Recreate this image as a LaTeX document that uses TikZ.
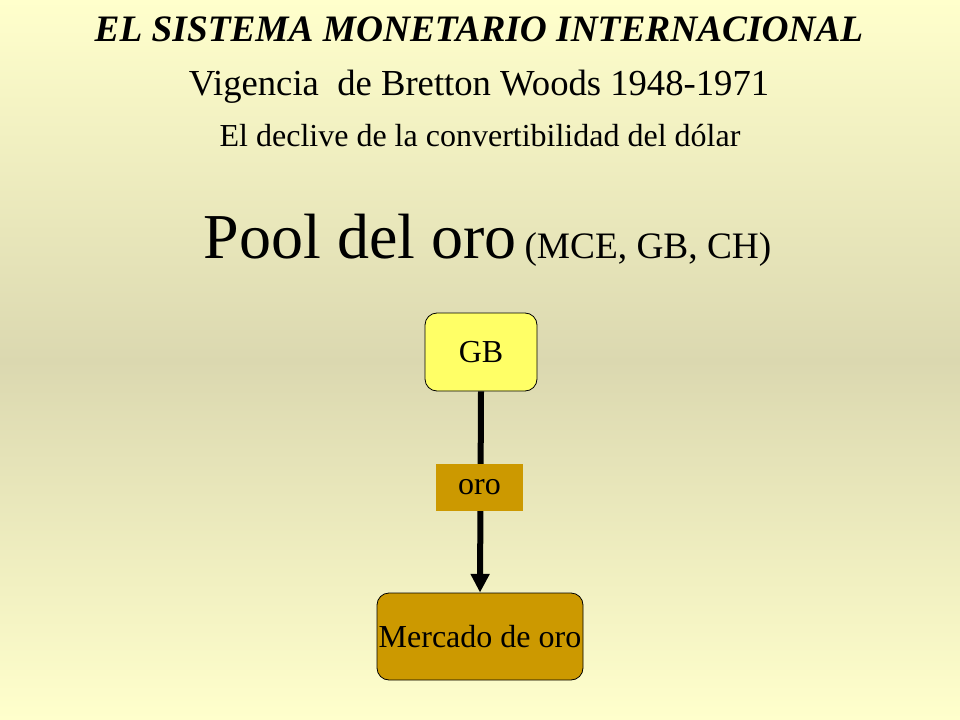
\documentclass[tikz,border=0pt]{standalone}
\usepackage{fontspec}
\setmainfont{Liberation Serif}
\usetikzlibrary{arrows.meta}
\definecolor{bgtop}{RGB}{255,255,204}
\definecolor{bgmid}{RGB}{219,216,176}
\definecolor{gbfill}{RGB}{255,255,102}
\definecolor{gold}{RGB}{204,153,0}
\tikzset{
  boxnode/.style={draw=black, line width=0.6pt, rounded corners=9pt, inner sep=0pt, font=\fontsize{24}{28}\selectfont},
  tagnode/.style={fill=gold, inner sep=0pt, font=\fontsize{24}{28}\selectfont},
  flow/.style={line width=4.5pt, -{Triangle[width=13.5pt,length=14pt]}}
}
\begin{document}
\begin{tikzpicture}[x=0.75pt,y=-0.75pt]
\useasboundingbox (0,0) rectangle (960,720);
\shade[top color=bgtop, bottom color=bgmid] (0,0) rectangle (960,362);
\shade[top color=bgmid, bottom color=bgtop] (0,360) rectangle (960,720);
\node[anchor=base, font=\fontsize{28}{32}\selectfont\bfseries\itshape] (t1) at (479,42) {EL SISTEMA MONETARIO INTERNACIONAL};
\node[anchor=base, font=\fontsize{27.5}{32}\selectfont] (t2) at (479,96) {Vigencia\ \ de Bretton Woods 1948-1971};
\node[anchor=base, font=\fontsize{24}{28}\selectfont] (t3) at (480,147) {El declive de la convertibilidad del dólar};
\node[anchor=base, inner sep=0pt] (t4) at (487.5,259) {{\fontsize{48}{54}\selectfont Pool del oro}\hspace{6pt}{\fontsize{28}{32}\selectfont (MCE, GB, CH)}};
\node[boxnode, fill=gbfill, minimum width=84pt, minimum height=58.5pt] (gb) at (481,352) {GB};
\node[boxnode, fill=gold, minimum width=154.5pt, minimum height=65.25pt] (merc) at (480,636.5) {Mercado de oro};
\draw[flow] (gb.south) -- (merc.north);
\node[tagnode, minimum width=65.25pt, minimum height=35.25pt] (oro) at (479.5,487.5) {oro};
\end{tikzpicture}
\end{document}
